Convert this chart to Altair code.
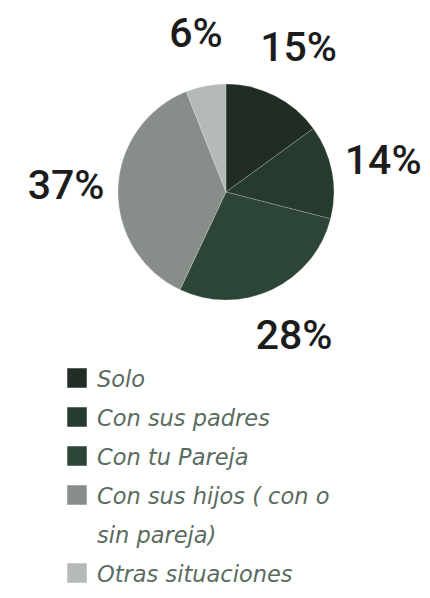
import altair as alt
import pandas as pd

categories = ["Solo", "Con sus padres", "Con tu Pareja", "Con sus hijos ( con o\nsin pareja)", "Otras situaciones"]
percentages = [15, 14, 28, 37, 6]
colors = ["#202c24", "#243b2e", "#2c4536", "#878e89", "#b6bab6"]
labels = [f"{p}%" for p in percentages]

order = list(range(len(categories)))
lines = [c.count("\n") + 1 for c in categories]
rows = [sum(lines[:i]) for i in range(len(categories))]

pie_df = pd.DataFrame({"cat": categories, "pct": percentages, "label": labels, "order": order})
leg_df = pd.DataFrame({"cat": categories, "row": rows, "order": order})

CX, CY, R = 218, 184, 108

color_scale = alt.Scale(domain=categories, range=colors)

base = alt.Chart(pie_df).encode(
    theta=alt.Theta("pct:Q", stack=True),
    order=alt.Order("order:Q"),
    x=alt.value(CX),
    y=alt.value(CY),
)

arcs = base.mark_arc(radius=R, stroke="#ffffff", strokeWidth=0.4, strokeOpacity=0.5).encode(
    color=alt.Color("cat:N", scale=color_scale, legend=None)
)

pct_text = base.mark_text(
    radius=160, font="Roboto", fontSize=41, fontWeight=500, color="#1c1c1c"
).encode(text="label:N")

yscale = alt.Scale(domain=[0, 5], range=[370, 565])

swatches = alt.Chart(leg_df).mark_square(size=380, opacity=1).encode(
    x=alt.value(69),
    y=alt.Y("row:Q", scale=yscale, axis=None),
    color=alt.Color("cat:N", scale=color_scale, legend=None),
)

leg_text = alt.Chart(leg_df).mark_text(
    align="left", baseline="alphabetic", dy=9, lineBreak="\n", lineHeight=39,
    font="DejaVu Sans", fontStyle="italic", fontSize=22.5, color="#5a6b5f"
).encode(
    x=alt.value(89),
    y=alt.Y("row:Q", scale=yscale, axis=None),
    text="cat:N",
)

chart = alt.layer(arcs, pct_text, swatches, leg_text).properties(
    width=414, height=582, padding=0,
    autosize=alt.AutoSizeParams(type="fit", contains="padding"),
).configure(background="#ffffff", view=alt.ViewConfig(stroke=None))

chart.save("out.html", embed_options={"renderer": "svg", "actions": False})
